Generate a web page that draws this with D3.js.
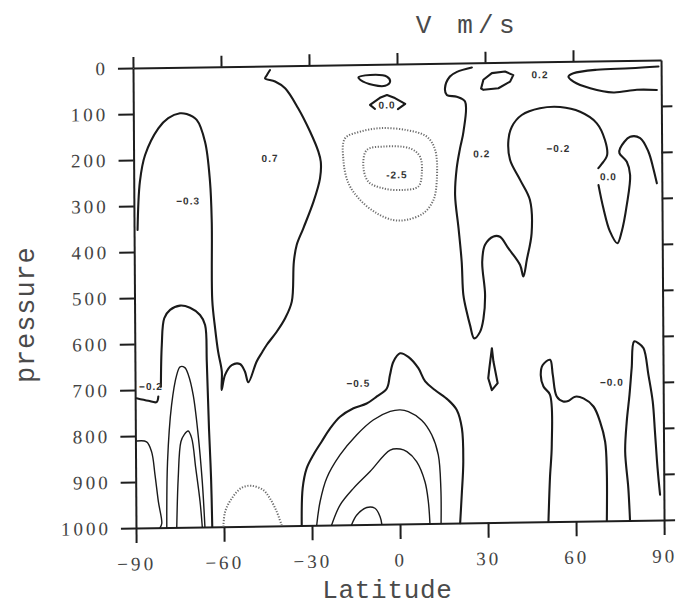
<!DOCTYPE html>
<html>
<head>
<meta charset="utf-8">
<script src="https://cdn.jsdelivr.net/npm/d3@7"></script>
<style>
  body { margin: 0; background: #fff; }
  svg { display: block; }
  .axis path, .axis line { stroke: #1e1e1e; stroke-width: 2; }
  .axis text { font-family: "Liberation Serif", serif; font-size: 19px; fill: #444; letter-spacing: 3px; }
  .ctr { fill: none; stroke: #1a1a1a; stroke-linejoin: round; stroke-linecap: round; }
  .thick { stroke-width: 2.1; }
  .thin { stroke-width: 1.4; }
  .dots { fill: none; stroke: #6e6e6e; stroke-width: 2; stroke-dasharray: 1.2 1.6; }
  .lbl { font-family: "Liberation Sans", sans-serif; font-weight: bold; font-size: 10px; fill: #333; letter-spacing: 1px; }
  .title { font-family: "Liberation Mono", monospace; fill: #4a4a4a; text-anchor: middle; }
</style>
</head>
<body>
<svg width="695" height="609"></svg>
<script>
// meridional wind V (m/s), latitude vs pressure
// contour lines as [latitude, pressure] pairs

const latTicks = [-90, -60, -30, 0, 30, 60, 90];
const presTicks = [0, 100, 200, 300, 400, 500, 600, 700, 800, 900, 1000];

// -0.3 / 0.7 line: southern polar dome, W kink near 700 hPa, up to the top at -43
const southLine = [[-88.8,352],[-87.9,247],[-86.1,190],[-81.5,132],[-78.1,110],[-74.1,100],[-71.8,102],
  [-68.4,115],[-65.6,163],[-64.0,250],[-63.5,337],[-63.5,507],[-62.6,568],[-61.6,620],[-60.4,663],
  [-60.5,703],[-59.3,670],[-57.0,649],[-54.2,647],[-52.5,664],[-51.4,687],[-48.5,642],[-46.6,622],
  [-45.0,606],[-41.6,578],[-38.7,549],[-36.4,513],[-35.6,426],[-34.6,390],[-32.3,354],[-28.8,297],
  [-26.5,246],[-26.2,210],[-27.0,188],[-29.8,144],[-33.8,93],[-38.2,49],[-41.6,34],[-45.0,27],
  [-44.4,20],[-43.3,9]];

// -0.2 hook at the left axis and the polar domes below it
const polarHook = [[-89.5,718],[-85.5,724],[-82.7,727],[-82.1,715]];
const polarDome1 = [[-81.2,694],[-80.8,603],[-79.9,545],[-77.9,527],[-74.5,518],[-71.1,523],[-67.7,539],
  [-66.0,561],[-65.5,641],[-64.9,786],[-64.3,894],[-64.0,1000]];
const polarDome2 = [[-79.5,1000],[-79.1,857],[-77.6,734],[-75.8,669],[-74.6,651],[-73.0,653],[-71.8,669],
  [-70.2,713],[-68.6,800],[-67.3,902],[-66.5,1000]];
const polarDome3 = [[-76.1,1000],[-75.5,893],[-74.5,814],[-73.3,798],[-72.0,791],[-70.8,807],[-69.5,872],
  [-68.1,945],[-67.4,1000]];
const polarEdge = [[-89.5,811],[-86.2,813],[-84.5,835],[-83.4,885],[-82.3,944],[-81.2,991],[-81.8,1000]];

// dotted (negative) bump near the surface at -50
const surfaceBump = [[-60.2,1000],[-59.6,968],[-57.3,939],[-53.9,916],[-50.5,912],[-46.5,922],
  [-44.3,940],[-42.0,969],[-40.3,1000]];

// low level Hadley return flow, -0.5 and inner domes
const hadley1 = [[-33.5,1000],[-33.1,919],[-31.7,876],[-29.4,847],[-26.5,818],[-23.6,790],[-20.2,765],
  [-15.6,747],[-11.1,737],[-7.6,722],[-4.2,705],[-3.1,676],[-1.9,647],[0.4,629],[3.2,637],[6.6,662],
  [8.9,691],[12.2,710],[16.7,732],[19.6,754],[21.3,794],[21.7,867],[21.1,939],[20.5,1000]];
const hadley2 = [[-28.4,1000],[-27.2,949],[-24.9,898],[-20.3,848],[-14.6,805],[-8.9,773],[-3.1,755],
  [0.3,752],[3.1,756],[7.6,775],[11.0,807],[13.2,851],[14.0,924],[14.0,1000]];
const hadley3 = [[-23.3,1000],[-20.4,957],[-15.8,921],[-10.1,885],[-3.2,839],[0.2,837],[2.5,843],
  [5.8,865],[8.6,909],[9.7,952],[10.2,1000]];
const hadley4 = [[-16.5,1000],[-14.7,979],[-11.3,963],[-8.5,965],[-6.8,983],[-6.2,1000]];

// upper tropical features
const topLoopS = [[-13.2,28],[-9.2,23],[-3.5,27],[-2.4,38],[-4.1,47],[-8.1,45],[-12.6,33]];
const zeroHat = [[-7.6,97],[-9.3,88],[-5.9,73],[-3.5,67],[-0.8,74],[2.7,87],[0.2,98]];
const jetOuter = [[-17.9,160],[-12.8,146],[-5.9,139],[3.2,144],[10.0,159],[12.8,188],[13.3,253],
  [12.1,297],[8.7,325],[3.0,339],[-1.6,339],[-7.2,324],[-12.9,294],[-16.8,258],[-18.5,207]];
const jetInner = [[-10.5,186],[-4.8,179],[4.3,184],[7.6,202],[8.2,238],[7.0,267],[1.9,274],
  [-4.9,270],[-10.0,255],[-11.7,222]];

// 0.2 line from the top at 25N round the -0.2 cell, and its part past the 0.0 label
const northLineA = [[25.5,10],[20.4,19],[18.0,29],[16.3,54],[16.9,69],[20.3,73],[23.1,84],[22.5,149],
  [21.3,185],[20.1,229],[19.5,287],[20.6,359],[21.6,432],[22.1,504],[23.2,541],[24.3,570],[25.7,599],
  [27.7,585],[28.9,556],[29.5,505],[28.6,432],[29.6,396],[32.5,378],[34.7,379],[37.5,404],[41.5,441],
  [42.6,466],[43.8,430],[45.5,372],[45.0,300],[41.7,256],[38.3,212],[37.8,169],[39.0,140],[42.4,115],
  [48.6,101],[55.5,99],[62.3,110],[67.9,135],[70.7,172],[71.4,205],[69.3,226],[68.4,233]];
const northLineB = [[68.4,270],[70.0,320],[72.2,371],[74.7,397],[76.2,372],[78.0,314],[79.2,249],
  [78.1,220],[75.6,201],[75.9,190],[79.3,166],[82.7,169],[85.5,199],[87.1,235],[88.3,268]];
const topLoopN = [[29.4,37],[32.3,23],[36.8,20],[39.6,28],[38.5,42],[34.5,56],[29.4,59],[28.6,56]];
const topTongue = [[89.1,14],[79.4,17],[68.1,19],[60.1,26],[58.4,33],[60.1,44],[65.8,59],[73.7,69],
  [81.7,64],[88.5,65]];
const smallLoop30 = [[31.7,621],[32.2,650],[33.6,697],[31.6,712],[30.4,686],[30.8,664]];
const north60 = [[50.6,1000],[51.2,906],[51.9,833],[51.4,724],[49.2,706],[48.3,681],[49.0,659],
  [51.5,648],[52.4,681],[53.7,728],[55.9,739],[57.6,738],[60.0,729],[62.8,733],[66.2,751],[68.4,784],
  [70.1,828],[70.6,893],[70.5,1000]];
const north80 = [[78.4,1000],[77.9,930],[76.9,850],[77.5,785],[78.5,727],[79.3,669],[80.2,611],
  [81.7,615],[83.4,626],[85.0,684],[86.4,742],[87.1,808],[87.9,887],[88.7,945]];

// contour labels
const labelText = ["0.7", "\u22120.3", "0.2", "\u22120.2", "0.0", "\u22120.5", "\u22120.0", "-2.5", "\u22120.2", "0.2", "0.0"];
const labelLat = [-43.5, -71.5, 28.7, 54.8, 71.8, -13.9, 72.5, -0.3, -84.6, 48.7, -3.5];
const labelPres = [201, 291, 198, 189, 252, 693, 699, 241, 693, 28, 89];

const svg = d3.select("svg");
const W = 527, H = 460;

// the scanned figure is slightly skewed, so the plot sits in a sheared group
const plot = svg.append("g")
  .attr("transform", "matrix(1.002,-0.0152,0.0065,1,133,68)");

const x = d3.scaleLinear().domain([-90, 90]).range([0, W]);
const y = d3.scaleLinear().domain([0, 1000]).range([0, H]);

const smooth = d3.line().x(d => x(d[0])).y(d => y(d[1])).curve(d3.curveCatmullRom.alpha(0.5));
const sharp = d3.line().x(d => x(d[0])).y(d => y(d[1]));
const loop = d3.line().x(d => x(d[0])).y(d => y(d[1])).curve(d3.curveCatmullRomClosed.alpha(0.5));

// axes
plot.append("g").attr("class", "axis")
  .call(d3.axisLeft(y).tickValues(presTicks).tickSize(15).tickSizeOuter(0).tickPadding(10)
    .tickFormat(d3.format("d")));
plot.append("g").attr("class", "axis")
  .attr("transform", `translate(0,${H})`)
  .call(d3.axisBottom(x).tickValues(latTicks).tickSize(15).tickSizeOuter(0).tickPadding(14)
    .tickFormat(d => d < 0 ? "\u2212" + Math.abs(d) : d));
plot.append("g").attr("class", "axis")
  .call(d3.axisTop(x).tickValues(latTicks.slice(0, 6)).tickSize(11).tickSizeOuter(0).tickFormat(""));
plot.append("g").attr("class", "axis")
  .attr("transform", `translate(${W},0)`)
  .call(d3.axisRight(y).tickValues(presTicks.slice(1)).tickSize(11).tickSizeOuter(0).tickFormat(""));

// contours
const solidThick = [southLine, polarHook, polarDome1, hadley1, topLoopS, northLineA, northLineB,
  topTongue, north60, north80];
const solidThin = [polarDome2, polarDome3, polarEdge, hadley2, hadley3, hadley4];

plot.selectAll("path.thickc").data(solidThick).enter().append("path")
  .attr("class", "ctr thick thickc").attr("d", d => d === topLoopS ? loop(d) : smooth(d));
plot.selectAll("path.thinc").data(solidThin).enter().append("path")
  .attr("class", "ctr thin thinc").attr("d", smooth);
plot.append("path").attr("class", "ctr thick").attr("d", sharp(zeroHat));
plot.append("path").attr("class", "ctr thick").attr("d", sharp(topLoopN) + "Z");
plot.append("path").attr("class", "ctr thick").attr("d", sharp(smallLoop30) + "Z");

plot.append("path").attr("class", "dots").attr("d", smooth(surfaceBump));
plot.append("path").attr("class", "dots").attr("d", loop(jetOuter));
plot.append("path").attr("class", "dots").attr("d", loop(jetInner));

plot.selectAll("text.lbl").data(labelText).enter().append("text")
  .attr("class", "lbl")
  .attr("x", (d, i) => x(labelLat[i]))
  .attr("y", (d, i) => y(labelPres[i]))
  .attr("dy", "0.35em")
  .attr("text-anchor", "middle")
  .text(d => d);

// titles, set character by character like the typewriter lettering of the scan
function mono(str, x0, pitch) {
  return str.split("").map((c, i) => x0 + i * pitch).join(" ");
}
svg.append("text").attr("class", "title")
  .attr("x", mono("V m/s", 423.5, 20.8)).attr("y", 33)
  .attr("font-size", 26)
  .text("V m/s");
svg.append("text").attr("class", "title")
  .attr("x", mono("Latitude", 330, 16.3)).attr("y", 598)
  .attr("font-size", 26)
  .text("Latitude");
svg.append("text").attr("class", "title")
  .attr("transform", "translate(34,0) rotate(-90)")
  .attr("x", mono("pressure", -375, 17.1)).attr("y", 0)
  .attr("font-size", 27)
  .text("pressure");
</script>
</body>
</html>
